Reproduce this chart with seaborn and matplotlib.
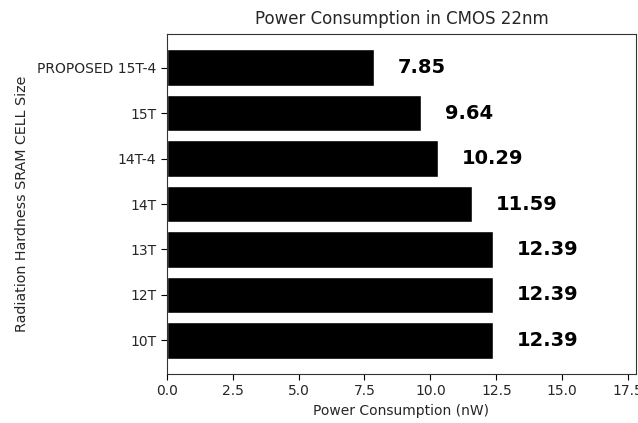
import matplotlib
matplotlib.use("Agg")
import matplotlib.pyplot as plt
import seaborn as sns
import pandas as pd

cells = ["PROPOSED 15T-4", "15T", "14T-4", "14T", "13T", "12T", "10T"]
power_nw = [7.85, 9.64, 10.29, 11.59, 12.39, 12.39, 12.39]

df = pd.DataFrame({"cell": cells, "power": power_nw})

sns.set_style("ticks")
plt.rcParams["font.family"] = ["DejaVu Sans"]

fig, ax = plt.subplots(figsize=(6.38, 4.23), dpi=100)
sns.barplot(data=df, y="cell", x="power", orient="h", color="black",
            saturation=1, width=0.8, ax=ax)

# value labels beside each bar
for i, v in enumerate(power_nw):
    ax.text(v + 0.9, i, f"{v:.2f}", va="center", ha="left",
            fontsize=14, fontweight="bold", color="black")

ax.set_xlim(0, 17.8)
ax.set_ylim(len(cells) - 1 + 0.74, -0.74)
ax.set_xticks([0, 2.5, 5, 7.5, 10, 12.5, 15, 17.5])
ax.set_xticklabels(["0.0", "2.5", "5.0", "7.5", "10.0", "12.5", "15.0", "17.5"])
ax.tick_params(labelsize=10, length=4, color="black")
ax.set_title("Power Consumption in CMOS 22nm", fontsize=12, pad=7)
ax.set_xlabel("Power Consumption (nW)", fontsize=10, labelpad=4)
ax.set_ylabel("Radiation Hardness SRAM CELL Size", fontsize=10.3, labelpad=6)
for s in ax.spines.values():
    s.set_visible(True)
    s.set_color("#333333")

fig.subplots_adjust(left=0.2613, right=0.997, top=0.9196, bottom=0.1158)
fig.savefig("out.png", dpi=100)
